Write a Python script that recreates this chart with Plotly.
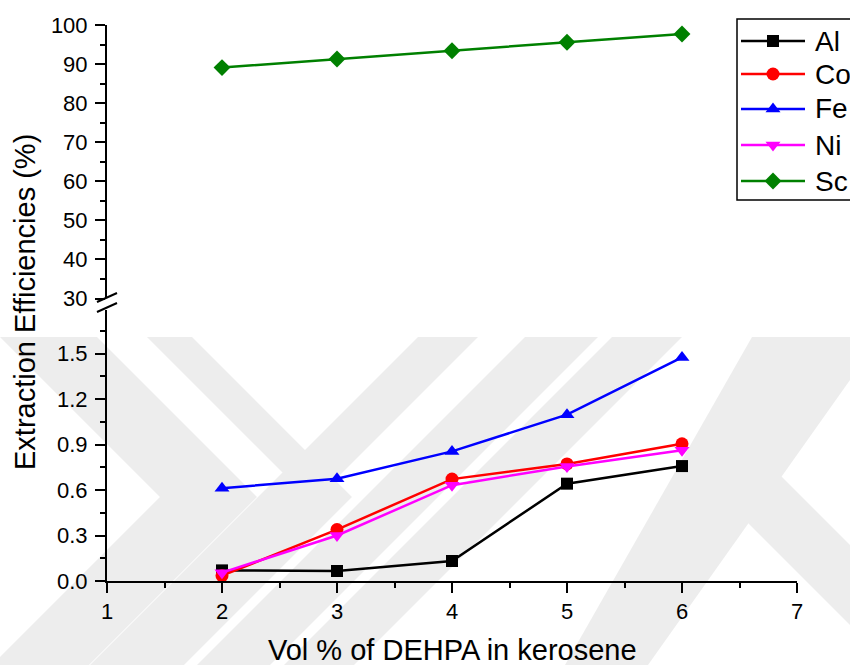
import plotly.graph_objects as go

# Extraction efficiency (%) vs. DEHPA concentration (vol %) in kerosene
dehpa_vol = [2, 3, 4, 5, 6]
metals = ["Al", "Co", "Fe", "Ni", "Sc"]
al = [0.07, 0.066, 0.132, 0.642, 0.758]
co = [0.035, 0.339, 0.672, 0.772, 0.905]
fe = [0.612, 0.675, 0.855, 1.097, 1.475]
ni = [0.055, 0.300, 0.632, 0.755, 0.862]
sc = [89.1, 91.3, 93.4, 95.6, 97.7]

x_ticks = [1, 2, 3, 4, 5, 6, 7]
low_ticks = [0.0, 0.3, 0.6, 0.9, 1.2, 1.5]
high_ticks = [30, 40, 50, 60, 70, 80, 90, 100]

series = {"Al": al, "Co": co, "Fe": fe, "Ni": ni, "Sc": sc}
colors = {"Al": "#000000", "Co": "#FF0000", "Fe": "#0000FF", "Ni": "#FF00FF", "Sc": "#008000"}
symbols = {"Al": "square", "Co": "circle", "Fe": "triangle-up", "Ni": "triangle-down", "Sc": "diamond"}
msize = {"Al": 12, "Co": 13, "Fe": 13, "Ni": 13, "Sc": 13}

W, H = 850, 665
ML, MR, MT, MB = 107, 53, 25, 84
PW, PH = W - ML - MR, H - MT - MB

low_top = 1.79          # upper limit of the lower (0-1.8 %) panel
break_val = 30          # values at or above this go in the upper panel
low_dom = [0, 0.4881]
high_dom = [0.5081, 1]

FONT = "Liberation Sans, Arial, sans-serif"


def px(xp):
    return (xp - ML) / PW


def py(yp):
    return (H - MB - yp) / PH


def poly_path(pts):
    return "M " + " L ".join(f"{px(x):.5f},{py(y):.5f}" for x, y in pts) + " Z"


fig = go.Figure()

for name in metals:
    vals = series[name]
    upper = min(vals) >= break_val
    fig.add_trace(go.Scatter(
        x=dehpa_vol, y=vals, name=name, mode="lines+markers",
        xaxis="x2" if upper else "x", yaxis="y2" if upper else "y",
        line=dict(color=colors[name], width=2.5),
        marker=dict(symbol=symbols[name], size=msize[name], color=colors[name]),
        cliponaxis=False, showlegend=False,
    ))

axis_common = dict(
    showline=True, linecolor="black", linewidth=2,
    ticks="outside", ticklen=10, tickwidth=2, tickcolor="black",
    showgrid=False, zeroline=False,
    tickfont=dict(family=FONT, size=22, color="black"),
)

fig.update_layout(
    width=W, height=H,
    margin=dict(l=ML, r=MR, t=MT, b=MB),
    paper_bgcolor="white", plot_bgcolor="rgba(0,0,0,0)",
    showlegend=False,
    xaxis=dict(range=[1, 7], tickvals=x_ticks, anchor="y",
               minor=dict(dtick=0.5, ticks="outside", ticklen=5, tickwidth=2, tickcolor="black"),
               **axis_common),
    yaxis=dict(range=[0, low_top], domain=low_dom, tickvals=low_ticks, tickformat=".1f",
               anchor="x", ticklabelstandoff=3,
               minor=dict(dtick=0.15, ticks="outside", ticklen=5, tickwidth=2, tickcolor="black"),
               **axis_common),
    xaxis2=dict(range=[1, 7], anchor="y2", matches="x", visible=False),
    yaxis2=dict(range=[break_val, 100], domain=high_dom, tickvals=high_ticks, anchor="x2",
                ticklabelstandoff=3,
                minor=dict(dtick=5, ticks="outside", ticklen=5, tickwidth=2, tickcolor="black"),
                **axis_common),
    # full-height axes in pixel units, used for the legend key markers
    xaxis3=dict(range=[ML, W - MR], domain=[0, 1], visible=False, anchor="y3"),
    yaxis3=dict(range=[H - MB, MT], domain=[0, 1], visible=False, anchor="x3"),
)

shapes = []
annotations = []

# faint background watermark bands
WM = "#EDEDED"
watermark = [
    [(0, 337), (97, 337), (257, 497), (89, 665), (-8, 665), (160, 497)],
    [(147, 337), (192, 337), (352, 497), (184, 665), (139, 665), (307, 497)],
    [(418, 337), (478, 337), (150, 665), (90, 665)],
    [(525, 337), (598, 337), (270, 665), (197, 665)],
    [(612, 337), (682, 337), (354, 665), (284, 665)],
    [(752, 337), (850, 337), (850, 380), (648, 665), (565, 665)],
    [(705, 480), (745, 440), (850, 545), (850, 625)],
]
for pts in watermark:
    shapes.append(dict(type="path", xref="paper", yref="paper", path=poly_path(pts),
                       fillcolor=WM, line=dict(width=0), layer="below"))

# axis break marks
for y0 in (302, 312):
    shapes.append(dict(type="line", xref="paper", yref="paper",
                       x0=px(97), y0=py(y0), x1=px(117), y1=py(y0 - 9),
                       line=dict(color="black", width=2)))

# legend box and entries
shapes.append(dict(type="rect", xref="paper", yref="paper",
                   x0=px(737), y0=py(200), x1=px(880), y1=py(19),
                   line=dict(color="black", width=1.5), fillcolor="white", layer="below"))
legend_rows = [41, 74, 109, 145, 181]
for name, ly in zip(metals, legend_rows):
    shapes.append(dict(type="line", xref="paper", yref="paper",
                       x0=px(741), y0=py(ly), x1=px(805), y1=py(ly),
                       line=dict(color=colors[name], width=2.5)))
    fig.add_trace(go.Scatter(
        x=[773], y=[ly], xaxis="x3", yaxis="y3", mode="markers",
        marker=dict(symbol=symbols[name], size=msize[name], color=colors[name]),
        cliponaxis=False, showlegend=False, hoverinfo="skip",
    ))
    annotations.append(dict(xref="paper", yref="paper", x=px(813), y=py(ly),
                            xanchor="left", yanchor="middle", showarrow=False,
                            text=name, font=dict(family=FONT, size=28, color="black")))

# axis titles
annotations.append(dict(xref="paper", yref="paper", x=px(25), y=py(302),
                        xanchor="center", yanchor="middle", showarrow=False, textangle=-90,
                        text="Extraction Efficiencies (%)",
                        font=dict(family=FONT, size=29, color="black")))
annotations.append(dict(xref="paper", yref="paper", x=px(452), y=py(650),
                        xanchor="center", yanchor="middle", showarrow=False,
                        text="Vol % of DEHPA in kerosene",
                        font=dict(family=FONT, size=29, color="black")))

fig.update_layout(shapes=shapes, annotations=annotations)

fig.write_html("out.html")
